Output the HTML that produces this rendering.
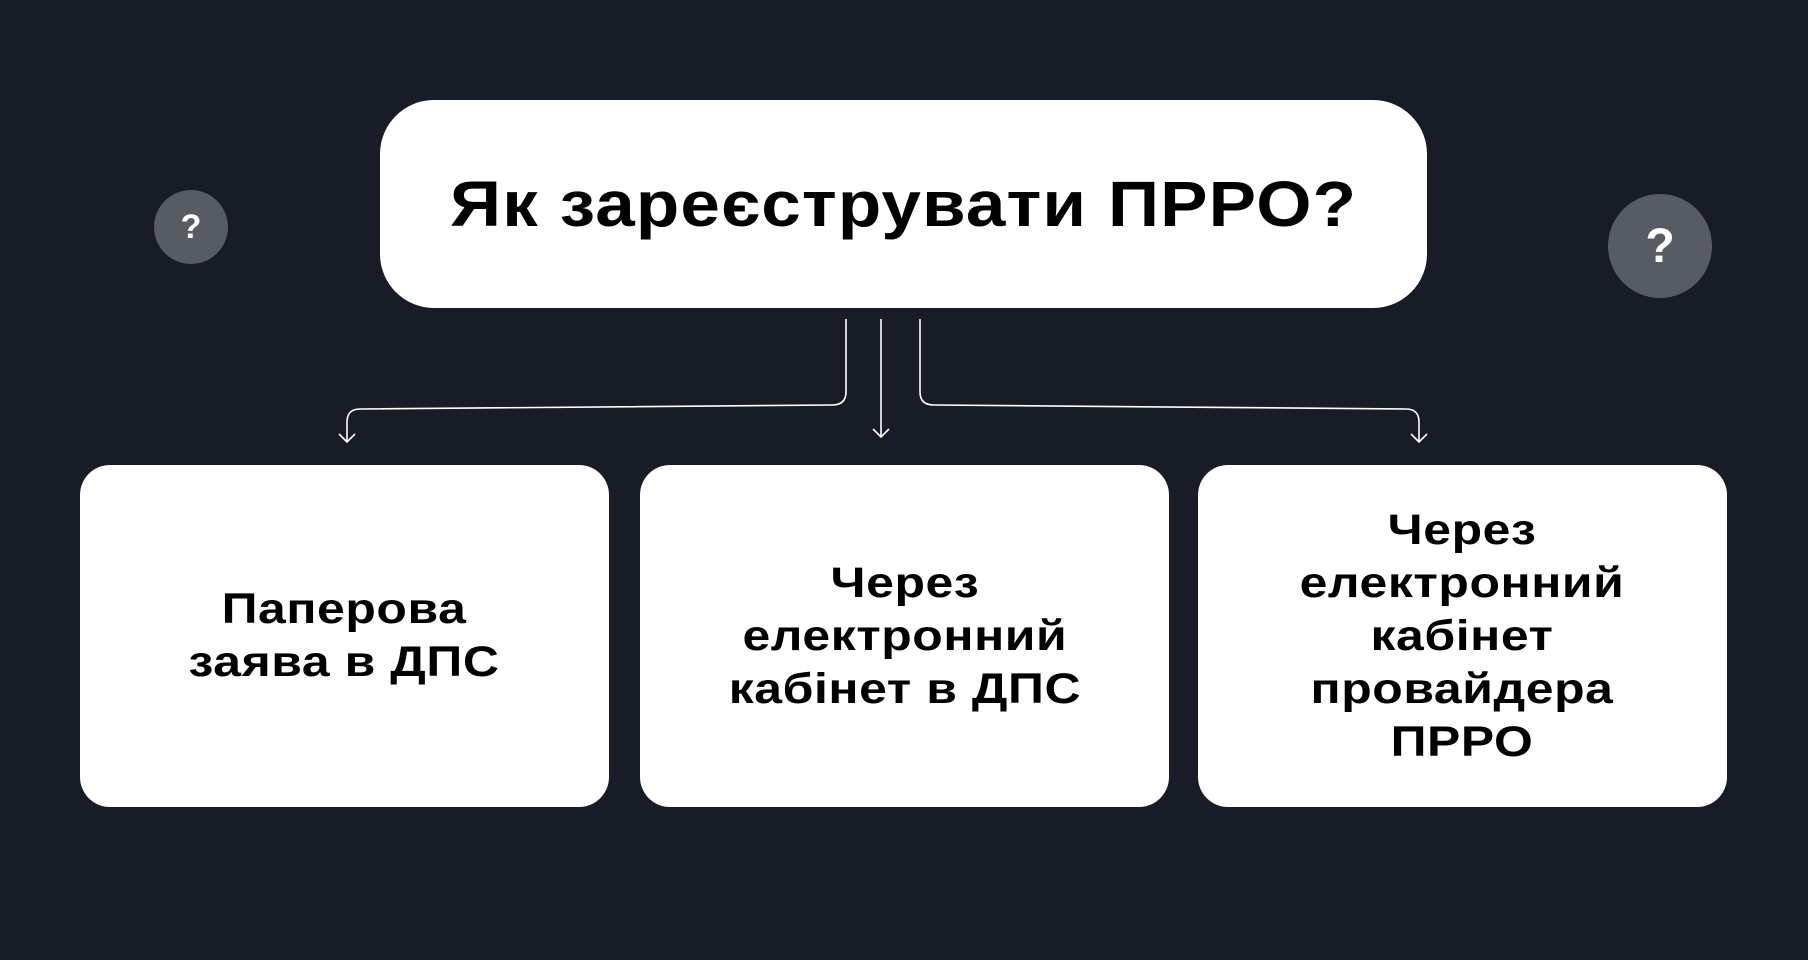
<!DOCTYPE html>
<html><head><meta charset="utf-8"><style>
body{margin:0;width:1808px;height:960px;background:#181c27;position:relative;overflow:hidden;font-family:"Liberation Sans","DejaVu Sans",sans-serif;}
.b{position:absolute;background:#fff;display:flex;align-items:center;justify-content:center;text-align:center;color:#000;font-weight:bold;}
.b span{display:inline-block;}
.t{left:380px;top:100px;width:1047px;height:208px;border-radius:54px;font-size:64px;letter-spacing:1px;}
.t span{transform:scaleX(1.11);}
.s{top:465px;height:342px;width:529px;border-radius:30px;font-size:43px;line-height:53px;letter-spacing:0.5px;}
.s span{transform:scaleX(1.16);}
.c{position:absolute;border-radius:50%;background:#575b64;color:#fff;font-weight:bold;display:flex;align-items:center;justify-content:center;}
</style></head><body>
<div class="c" style="left:154px;top:190px;width:74px;height:74px;font-size:34px;">?</div>
<div class="c" style="left:1608px;top:194px;width:104px;height:104px;font-size:48px;">?</div>
<div class="b t"><span>Як зареєструвати ПРРО?</span></div>
<svg width="1808" height="960" style="position:absolute;left:0;top:0" fill="none" stroke="#fff" stroke-width="1.6">
<path d="M846 319 V392 Q846 405 832 405 L360 409 Q347 409 347 422 V442"/>
<path d="M339 434 L347 442 L355 434"/>
<path d="M881 319 V437"/>
<path d="M873 429 L881 437 L889 429"/>
<path d="M920 319 V392 Q920 405 934 405 L1406 409 Q1419 409 1419 422 V442"/>
<path d="M1411 434 L1419 442 L1427 434"/>
</svg>
<div class="b s" style="left:80px"><span>Паперова<br>заява в ДПС</span></div>
<div class="b s" style="left:640px"><span>Через<br>електронний<br>кабінет в ДПС</span></div>
<div class="b s" style="left:1198px"><span>Через<br>електронний<br>кабінет<br>провайдера<br>ПРРО</span></div>
</body></html>
